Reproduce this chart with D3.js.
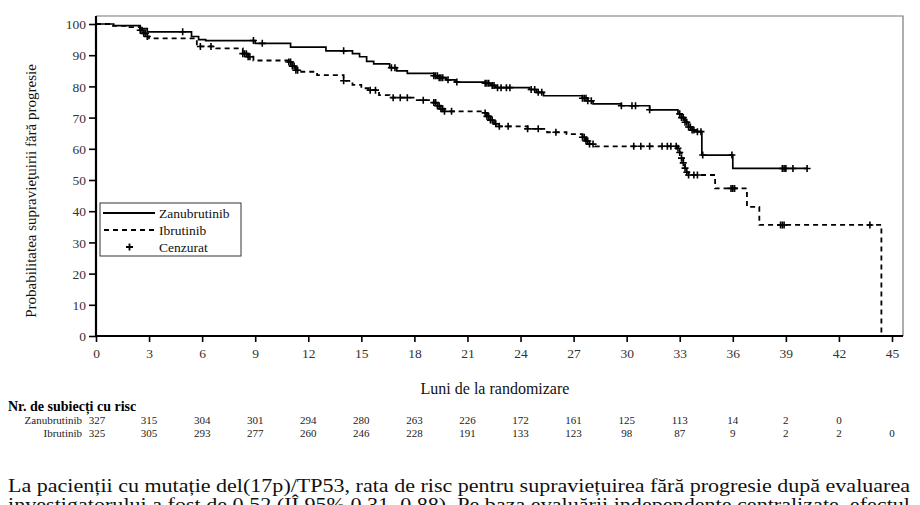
<!DOCTYPE html>
<html>
<head>
<meta charset="utf-8">
<script src="https://cdn.jsdelivr.net/npm/d3@7"></script>
<style>
  html, body { margin: 0; padding: 0; background: #fff; }
  svg { display: block; font-family: "Liberation Serif", "DejaVu Serif", serif; }
  svg text { font-family: "Liberation Serif", "DejaVu Serif", serif; }
</style>
</head>
<body>
<svg id="chart" width="920" height="505"></svg>
<script>
// ─── Data ─────────────────────────────────────────────────────────────────────

// Kaplan-Meier steps: [month, survival % after this time]
const zanuSteps = [
    [0, 100], [1.0, 99.5], [2.5, 98.5], [2.9, 97.5], [5.4, 96], [5.8, 95], [6.2, 94.7],
    [9.0, 93.8], [11.0, 92.6], [13.0, 91.4], [14.5, 90.5], [14.9, 89.5], [15.3, 88],
    [15.7, 87.2], [16.6, 86], [17.0, 85], [17.6, 84.2], [19.1, 83.4], [19.4, 82.8],
    [19.8, 82.1], [20.3, 81.4], [22.0, 81.0], [22.3, 80.3], [22.6, 79.6], [24.5, 79.0],
    [24.9, 78.1], [25.3, 77], [27.5, 76.2], [27.8, 75.4], [28.1, 74.4], [29.7, 73.8],
    [31.3, 72.5], [32.9, 71.2], [33.1, 70], [33.3, 68.5], [33.5, 67], [33.7, 66],
    [33.9, 65.5], [34.25, 58], [36.0, 53.7]
];
const zanuEnd = 40.2;
const zanuCensor = [
    4.9, 8.9, 9.4, 14.0, 16.7, 16.9, 19.1, 19.2, 19.3, 19.4, 19.5, 19.6, 19.9, 20.4,
    22.0, 22.1, 22.2, 22.4, 22.5, 22.7, 22.9, 23.2, 23.4, 24.6, 24.8, 25.0, 25.2,
    27.5, 27.6, 27.7, 27.8, 28.0, 29.7, 30.3, 30.5, 31.3, 33.0, 33.1, 33.2, 33.3,
    33.4, 33.5, 33.6, 33.7, 33.8, 34.0, 34.2, 34.3, 35.95, 38.8, 38.9, 39.0, 39.4, 40.2
];

const ibruSteps = [
    [0, 100], [0.8, 99.4], [1.9, 99], [2.5, 98], [2.7, 97], [2.9, 96], [3.0, 95.4],
    [5.7, 92.8], [6.8, 92.2], [8.3, 90.5], [8.6, 89.5], [8.9, 88.3], [10.9, 87.8],
    [11.1, 86.5], [11.3, 85.2], [11.5, 84.7], [12.5, 83.6], [14.0, 81.8], [14.5, 80.5],
    [15.0, 79.4], [15.4, 78.8], [16.0, 77.2], [16.6, 76.4], [18.0, 75.6], [19.1, 74.8],
    [19.3, 73.8], [19.5, 72.8], [19.7, 72], [21.9, 71.5], [22.1, 70.4], [22.3, 69.2],
    [22.5, 68], [22.7, 67.2], [24.4, 66.4], [25.5, 65.3], [26.6, 64.7], [27.5, 63.7],
    [27.7, 62.5], [27.9, 61.5], [28.2, 60.8], [32.9, 60.2], [33.0, 58.8], [33.1, 57],
    [33.2, 55.5], [33.3, 53.8], [33.4, 52.5], [33.5, 51.6], [35.0, 47.3], [36.8, 41.4],
    [37.5, 35.6], [44.4, 0]
];
const ibruEnd = 44.4;
const ibruCensor = [
    2.5, 2.6, 2.7, 2.8, 2.9, 5.9, 6.5, 8.3, 8.4, 8.5, 8.6, 8.7, 10.9, 11.0, 11.1,
    11.2, 11.3, 11.4, 14.0, 15.5, 15.8, 16.8, 17.2, 17.6, 18.5, 19.1, 19.2, 19.3,
    19.4, 19.5, 19.6, 19.7, 20.1, 22.0, 22.1, 22.2, 22.3, 22.4, 22.6, 22.8, 23.3,
    24.4, 25.0, 26.0, 27.5, 27.6, 27.7, 27.8, 27.9, 28.1, 30.4, 30.8, 31.3, 32.0,
    32.3, 32.5, 32.8, 32.9, 33.0, 33.1, 33.2, 33.3, 33.4, 33.5, 33.8, 34.0, 35.9,
    36.0, 36.1, 38.7, 38.8, 38.9, 43.75
];

const xTicks = [0, 3, 6, 9, 12, 15, 18, 21, 24, 27, 30, 33, 36, 39, 42, 45];
const yTicks = [0, 10, 20, 30, 40, 50, 60, 70, 80, 90, 100];

const riskZanu = [327, 315, 304, 301, 294, 280, 263, 226, 172, 161, 125, 113, 14, 2, 0];
const riskIbru = [325, 305, 293, 277, 260, 246, 228, 191, 133, 123, 98, 87, 9, 2, 2, 0];

const yLabel = "Probabilitatea supravieţuirii fără progresie";
const xLabel = "Luni de la randomizare";
const riskTitle = "Nr. de subiecți cu risc";
const legendItems = ["Zanubrutinib", "Ibrutinib", "Cenzurat"];
const footLines = [
    "La pacienții cu mutație del(17p)/TP53, rata de risc pentru supraviețuirea fără progresie după evaluarea",
    "investigatorului a fost de 0,52 (IÎ 95% 0,31, 0,88). Pe baza evaluării independente centralizate, efectul"
];

// ─── Chart ────────────────────────────────────────────────────────────────────

const svg = d3.select("#chart");
const plotLeft = 96, plotRight = 903, plotTop = 16, plotBottom = 336;

const x = d3.scaleLinear().domain([0, 45]).range([plotLeft, 892]);
const y = d3.scaleLinear().domain([0, 100]).range([plotBottom, 24]);

// frame (top and right, lighter)
svg.append("path")
    .attr("d", `M${plotLeft},${plotTop} H${plotRight} V${plotBottom}`)
    .attr("fill", "none")
    .attr("stroke", "#777")
    .attr("stroke-width", 1.2);

// axes
const yAxis = svg.append("g")
    .attr("transform", `translate(${plotLeft},0)`)
    .call(d3.axisLeft(y).tickValues(yTicks).tickSize(7).tickSizeOuter(0));
const xAxis = svg.append("g")
    .attr("transform", `translate(0,${plotBottom})`)
    .call(d3.axisBottom(x).tickValues(xTicks).tickSize(6).tickSizeOuter(0));

[yAxis, xAxis].forEach(g => {
    g.attr("font-family", null);
    g.select(".domain").remove();
    g.selectAll(".tick line").attr("stroke", "#000").attr("stroke-width", 1.6);
    g.selectAll(".tick text")
        .attr("fill", "#333")
        .style("font-size", "13.5px");
});
yAxis.selectAll(".tick text").attr("x", -10).attr("dy", "0.35em");
xAxis.selectAll(".tick text").attr("y", 12);

svg.append("line")
    .attr("x1", plotLeft).attr("x2", plotLeft).attr("y1", plotTop).attr("y2", plotBottom + 1)
    .attr("stroke", "#000").attr("stroke-width", 2.2);
svg.append("line")
    .attr("x1", plotLeft - 1).attr("x2", plotRight).attr("y1", plotBottom).attr("y2", plotBottom)
    .attr("stroke", "#000").attr("stroke-width", 2.2);

// curves
const stepLine = d3.line()
    .x(d => x(d[0]))
    .y(d => y(d[1]))
    .curve(d3.curveStepAfter);

function withEnd(steps, end) {
    const last = steps[steps.length - 1];
    return last[0] >= end ? steps : steps.concat([[end, last[1]]]);
}

function valueAt(steps, t) {
    let v = steps[0][1];
    steps.forEach(s => { if (s[0] <= t) v = s[1]; });
    return v;
}

svg.append("path")
    .datum(withEnd(zanuSteps, zanuEnd))
    .attr("d", stepLine)
    .attr("fill", "none")
    .attr("stroke", "#000")
    .attr("stroke-width", 1.7);

svg.append("path")
    .datum(withEnd(ibruSteps, ibruEnd))
    .attr("d", stepLine)
    .attr("fill", "none")
    .attr("stroke", "#000")
    .attr("stroke-width", 1.8)
    .attr("stroke-dasharray", "5,4");

// censor marks
function drawCensors(times, steps) {
    const g = svg.append("g");
    times.forEach(t => {
        const cx = x(t), cy = y(valueAt(steps, t));
        g.append("path")
            .attr("d", `M${cx - 3.5},${cy} h7 M${cx},${cy - 3.5} v7`)
            .attr("stroke", "#000")
            .attr("stroke-width", 1.6);
    });
}
drawCensors(zanuCensor, zanuSteps);
drawCensors(ibruCensor, ibruSteps);

// legend
const legend = svg.append("g");
legend.append("rect")
    .attr("x", 100).attr("y", 203).attr("width", 141).attr("height", 53)
    .attr("fill", "#fff").attr("stroke", "#333").attr("stroke-width", 1);
const legendY = [213, 230, 247];
legend.append("line")
    .attr("x1", 103).attr("x2", 155).attr("y1", legendY[0]).attr("y2", legendY[0])
    .attr("stroke", "#000").attr("stroke-width", 1.8);
legend.append("line")
    .attr("x1", 104).attr("x2", 155).attr("y1", legendY[1]).attr("y2", legendY[1])
    .attr("stroke", "#000").attr("stroke-width", 1.8)
    .attr("stroke-dasharray", "5,4");
legend.append("path")
    .attr("d", `M126,${legendY[2]} h7 M129.5,${legendY[2] - 3.5} v7`)
    .attr("stroke", "#000").attr("stroke-width", 1.8);
legend.selectAll("text.leg")
    .data(legendItems)
    .join("text")
    .attr("class", "leg")
    .attr("x", 159)
    .attr("y", (d, i) => legendY[i] + 4.5)
    .style("font-size", "13.5px")
    .attr("fill", "#111")
    .text(d => d);

// axis titles
svg.append("text")
    .attr("transform", "translate(36,191) rotate(-90)")
    .attr("text-anchor", "middle")
    .style("font-size", "15px")
    .attr("fill", "#111")
    .text(yLabel);

svg.append("text")
    .attr("x", 495).attr("y", 394)
    .attr("text-anchor", "middle")
    .style("font-size", "16px")
    .attr("fill", "#111")
    .text(xLabel);

// number at risk table
svg.append("text")
    .attr("x", 8).attr("y", 411)
    .style("font-size", "14px")
    .style("font-weight", "bold")
    .text(riskTitle);

const rows = [
    { name: "Zanubrutinib", values: riskZanu, y: 424 },
    { name: "Ibrutinib", values: riskIbru, y: 437 }
];
rows.forEach(r => {
    svg.append("text")
        .attr("x", 82).attr("y", r.y)
        .attr("text-anchor", "end")
        .style("font-size", "11px")
        .attr("fill", "#222")
        .text(r.name);
    svg.append("g").selectAll("text")
        .data(r.values)
        .join("text")
        .attr("x", (d, i) => x(xTicks[i]) + (i === 0 ? 1 : 0))
        .attr("y", r.y)
        .attr("text-anchor", "middle")
        .style("font-size", "11px")
        .attr("fill", "#222")
        .text(d => d);
});

// paragraph below the chart (second line runs off the bottom, as in the source)
svg.selectAll("text.foot")
    .data(footLines)
    .join("text")
    .attr("class", "foot")
    .attr("x", 8)
    .attr("y", (d, i) => 492 + i * 19)
    .attr("textLength", 902)
    .attr("lengthAdjust", "spacingAndGlyphs")
    .style("font-size", "18px")
    .attr("fill", "#111")
    .text(d => d);
</script>
</body>
</html>
